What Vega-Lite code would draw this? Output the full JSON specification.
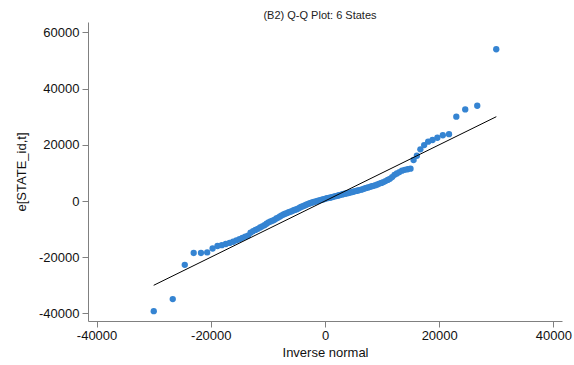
{
  "$schema": "https://vega.github.io/schema/vega-lite/v6.json",
  "width": 474,
  "height": 299,
  "autosize": {"type": "none"},
  "padding": {"left": 88, "top": 22, "right": 12, "bottom": 44},
  "background": "white",
  "config": {"view": {"stroke": null}, "font": "Liberation Sans"},
  "title": {"text": "(B2) Q-Q Plot: 6 States", "fontSize": 11, "fontWeight": "normal", "color": "#222222", "anchor": "middle", "dx": -5, "dy": 2, "offset": 3, "font": "Liberation Sans"},
  "datasets": {
    "pts": [
      {"x": -29986, "y": -39200}, {"x": -26659, "y": -34900}, {"x": -24557, "y": -22700}, {"x": -22993, "y": -18500},
      {"x": -21717, "y": -18500}, {"x": -20629, "y": -18300}, {"x": -19678, "y": -16900}, {"x": -18828, "y": -16000},
      {"x": -18064, "y": -15700}, {"x": -17364, "y": -15300}, {"x": -16701, "y": -14900}, {"x": -16088, "y": -14500},
      {"x": -15512, "y": -14000}, {"x": -14974, "y": -13600}, {"x": -14462, "y": -13100}, {"x": -13961, "y": -12700},
      {"x": -13486, "y": -12300}, {"x": -13035, "y": -11300}, {"x": -12585, "y": -10700}, {"x": -12172, "y": -10300},
      {"x": -11759, "y": -9900}, {"x": -11359, "y": -9400}, {"x": -10984, "y": -9000}, {"x": -10596, "y": -8600},
      {"x": -10233, "y": -8100}, {"x": -9883, "y": -7600}, {"x": -9533, "y": -7300}, {"x": -9182, "y": -7000},
      {"x": -8857, "y": -6700}, {"x": -8519, "y": -6200}, {"x": -8194, "y": -5900}, {"x": -7881, "y": -5500},
      {"x": -7569, "y": -5100}, {"x": -7256, "y": -4800}, {"x": -6956, "y": -4500}, {"x": -6655, "y": -4300},
      {"x": -6355, "y": -4000}, {"x": -6055, "y": -3800}, {"x": -5767, "y": -3600}, {"x": -5479, "y": -3300},
      {"x": -5192, "y": -3100}, {"x": -4916, "y": -2900}, {"x": -4641, "y": -2600}, {"x": -4366, "y": -2300},
      {"x": -4091, "y": -2000}, {"x": -3816, "y": -1800}, {"x": -3553, "y": -1600}, {"x": -3278, "y": -1300},
      {"x": -3015, "y": -1100}, {"x": -2752, "y": -900}, {"x": -2477, "y": -700}, {"x": -2214, "y": -500},
      {"x": -1952, "y": -350}, {"x": -1689, "y": -200}, {"x": -1426, "y": -50}, {"x": -1176, "y": 100},
      {"x": -913, "y": 250}, {"x": -651, "y": 400}, {"x": -388, "y": 550}, {"x": -125, "y": 700},
      {"x": 125, "y": 850}, {"x": 388, "y": 1000}, {"x": 651, "y": 1100}, {"x": 913, "y": 1200},
      {"x": 1176, "y": 1350}, {"x": 1426, "y": 1500}, {"x": 1689, "y": 1650}, {"x": 1952, "y": 1750},
      {"x": 2214, "y": 1900}, {"x": 2477, "y": 2050}, {"x": 2752, "y": 2200}, {"x": 3015, "y": 2350},
      {"x": 3278, "y": 2500}, {"x": 3553, "y": 2600}, {"x": 3816, "y": 2750}, {"x": 4091, "y": 2850},
      {"x": 4366, "y": 3000}, {"x": 4641, "y": 3150}, {"x": 4916, "y": 3300}, {"x": 5192, "y": 3450},
      {"x": 5479, "y": 3600}, {"x": 5767, "y": 3750}, {"x": 6055, "y": 3900}, {"x": 6355, "y": 4050},
      {"x": 6655, "y": 4250}, {"x": 6956, "y": 4450}, {"x": 7256, "y": 4650}, {"x": 7569, "y": 4850},
      {"x": 7881, "y": 5050}, {"x": 8194, "y": 5250}, {"x": 8519, "y": 5400}, {"x": 8857, "y": 5650},
      {"x": 9182, "y": 5900}, {"x": 9533, "y": 6200}, {"x": 9883, "y": 6450}, {"x": 10233, "y": 6750},
      {"x": 10596, "y": 7100}, {"x": 10984, "y": 7500}, {"x": 11359, "y": 7900}, {"x": 11759, "y": 8500},
      {"x": 12172, "y": 9300}, {"x": 12585, "y": 9800}, {"x": 13035, "y": 10300}, {"x": 13486, "y": 10800},
      {"x": 13961, "y": 11100}, {"x": 14462, "y": 11300}, {"x": 14974, "y": 11500}, {"x": 15512, "y": 14600},
      {"x": 16088, "y": 16100}, {"x": 16701, "y": 18400}, {"x": 17364, "y": 19900}, {"x": 18064, "y": 21100},
      {"x": 18828, "y": 21700}, {"x": 19678, "y": 22500}, {"x": 20629, "y": 23400}, {"x": 21717, "y": 23800},
      {"x": 22993, "y": 30000}, {"x": 24557, "y": 32600}, {"x": 26659, "y": 33900}, {"x": 29986, "y": 54000}
    ],
    "ref": [{"x": -30000, "y": -30000}, {"x": 30000, "y": 30000}]
  },
  "layer": [
    {
      "data": {"name": "pts"},
      "mark": {"type": "point", "filled": true, "size": 40, "color": "#3584d2", "opacity": 1, "strokeWidth": 0},
      "encoding": {
        "x": {"field": "x", "type": "quantitative", "scale": {"domain": [-41500, 41500], "nice": false, "zero": false},
          "axis": {"values": [-40000, -20000, 0, 20000, 40000], "labelExpr": "'' + datum.value", "title": "Inverse normal", "grid": false,
            "labelFontSize": 13, "labelColor": "#111111", "titleFontSize": 13, "titleFontWeight": "normal", "titleColor": "#111111",
            "domainColor": "#808080", "tickColor": "#808080", "tickSize": 6, "labelPadding": 2, "titlePadding": 4, "labelFlush": false}},
        "y": {"field": "y", "type": "quantitative", "scale": {"domain": [-42700, 63700], "nice": false, "zero": false},
          "axis": {"values": [-40000, -20000, 0, 20000, 40000, 60000], "labelExpr": "'' + datum.value", "title": "e[STATE_id,t]", "grid": false,
            "labelFontSize": 13, "labelColor": "#111111", "titleFontSize": 13, "titleFontWeight": "normal", "titleColor": "#111111",
            "domainColor": "#808080", "tickColor": "#808080", "tickSize": 6, "labelPadding": 3, "titlePadding": 10, "labelFlush": false}}
      }
    },
    {
      "data": {"name": "ref"},
      "mark": {"type": "line", "color": "#000000", "strokeWidth": 1},
      "encoding": {
        "x": {"field": "x", "type": "quantitative"},
        "y": {"field": "y", "type": "quantitative"}
      }
    }
  ]
}
